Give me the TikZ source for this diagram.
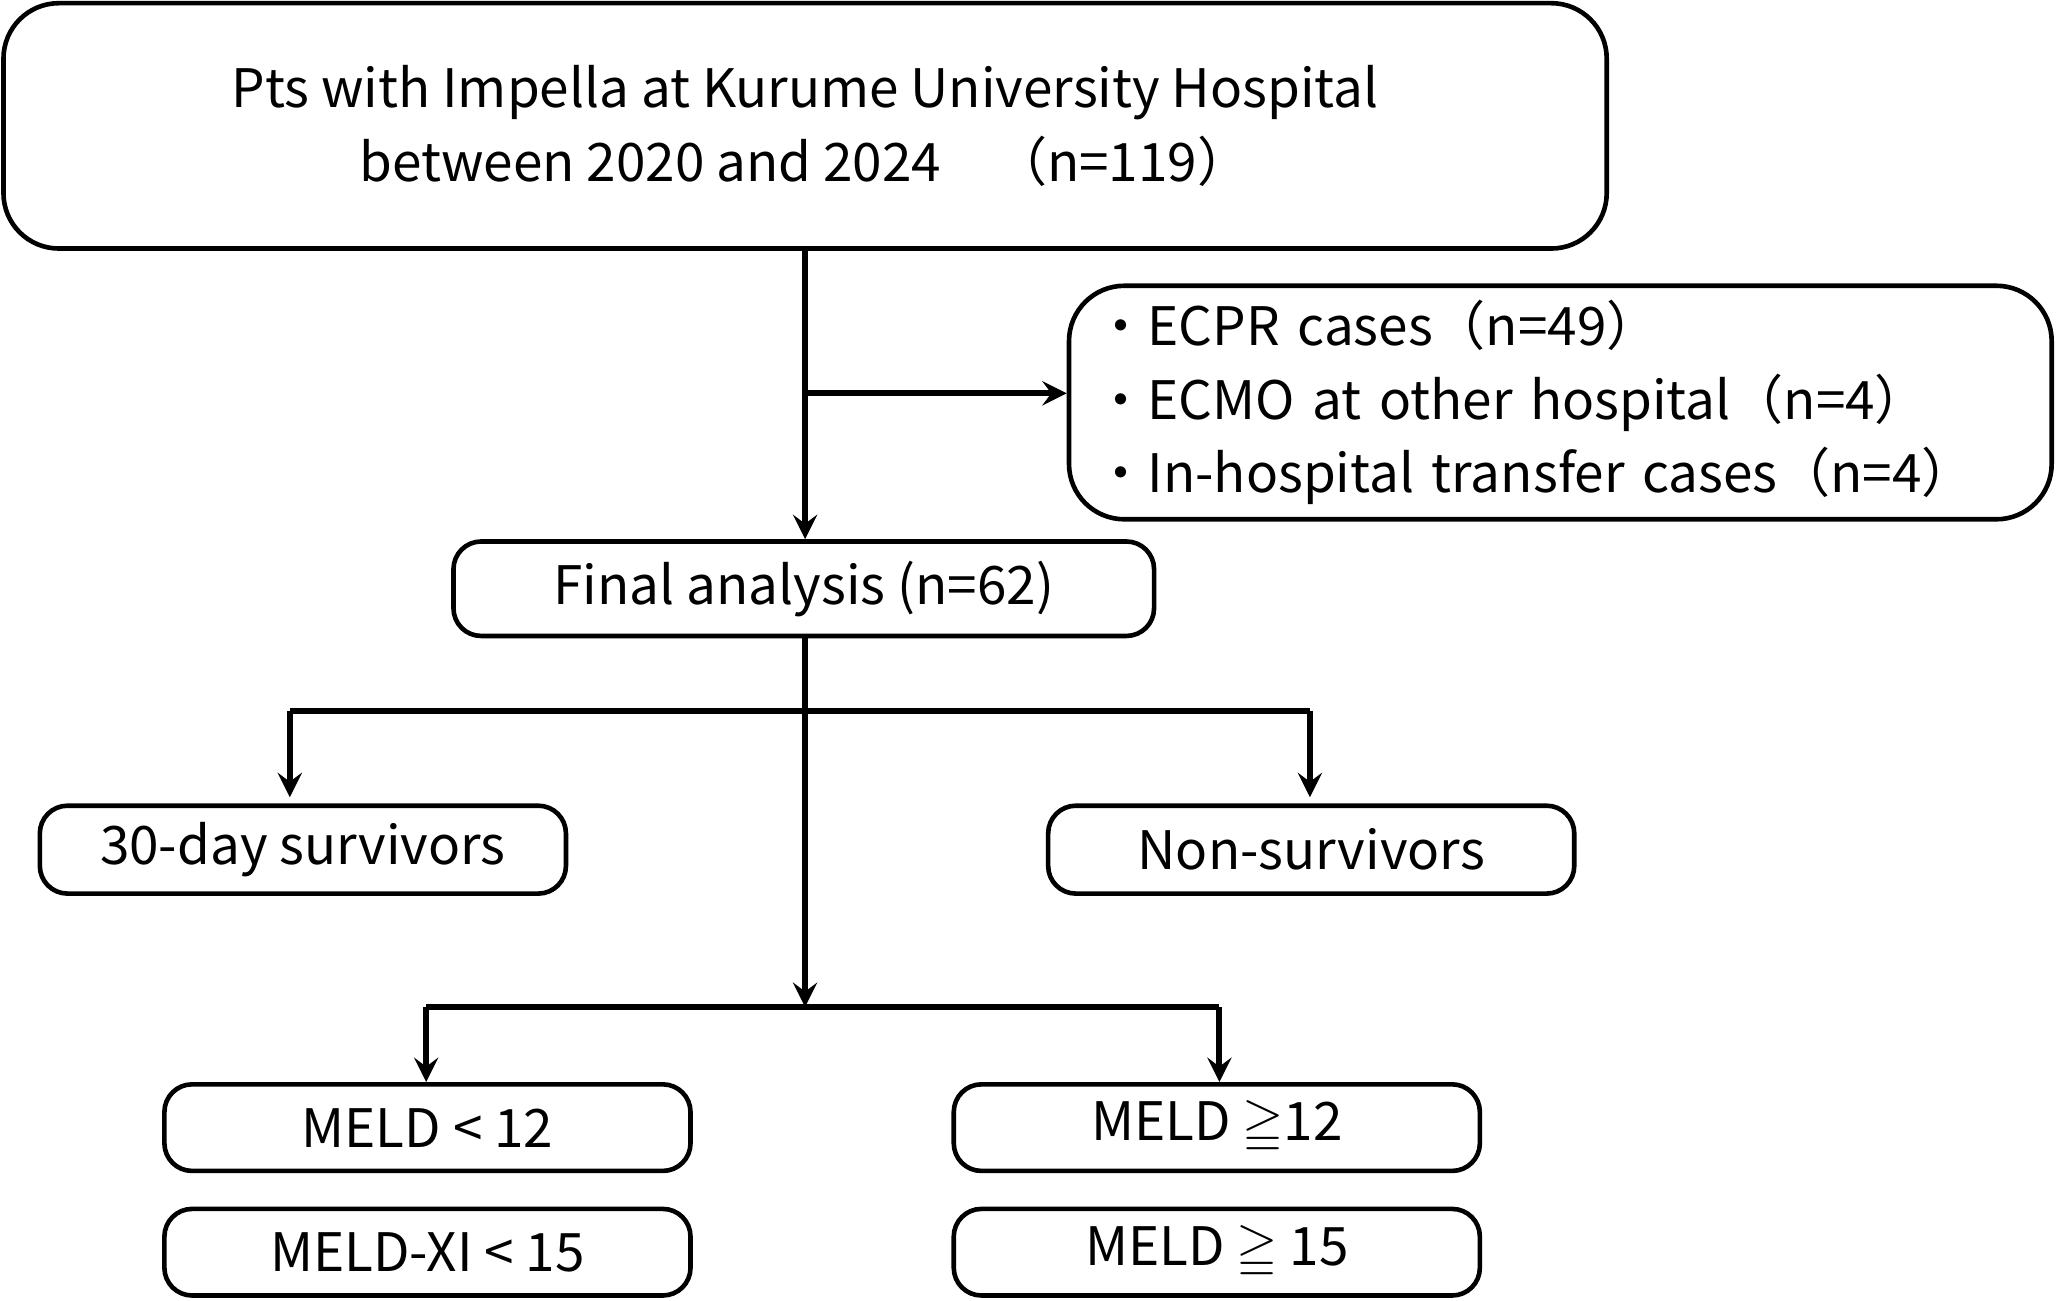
\documentclass[tikz,border=0pt]{standalone}
\usepackage{fontspec}
\setmainfont{Noto Sans CJK JP}
\usepackage{amssymb}
\begin{document}
\begin{tikzpicture}[x=0.01cm,y=-0.01cm,>=stealth,
  box/.style={draw,line width=1pt,rounded corners=6pt,font=\fontsize{11.5}{16}\selectfont,inner sep=0pt},
  flow/.style={line width=1.3pt}]
\useasboundingbox (0,0) rectangle (1568,992);
\node[box,minimum width=12.22cm,minimum height=1.87cm,rounded corners=12pt,align=center] (pts) at (614,96)
  {Pts with Impella at Kurume University Hospital\\between 2020 and 2024\quad（n=119）};
\node[box,minimum width=7.49cm,minimum height=1.78cm,rounded corners=12pt,align=left,text width=7.1cm] (excl) at (1190,307)
  {・ECPR cases（n=49）\\・ECMO at other hospital（n=4）\\・In-hospital transfer cases（n=4）};
\node[box,minimum width=5.34cm,minimum height=0.72cm] (final) at (613,449) {Final analysis (n=62)};
\node[box,minimum width=4.01cm,minimum height=0.67cm] (surv) at (231,648) {30-day survivors};
\node[box,minimum width=4.01cm,minimum height=0.67cm] (non) at (1000,648) {Non-survivors};
\node[box,minimum width=4.01cm,minimum height=0.66cm] (meldA) at (326,860) {MELD < 12};
\node[box,minimum width=4.01cm,minimum height=0.66cm] (meldB) at (928,860) {MELD $\geqq$12};
\node[box,minimum width=4.01cm,minimum height=0.66cm] (meldC) at (326,955) {MELD-XI < 15};
\node[box,minimum width=4.01cm,minimum height=0.66cm] (meldD) at (928,955) {MELD $\geqq$ 15};
\coordinate (split) at (614,300);
\coordinate (mid) at (614,768);
\draw[flow,->] (pts.south -| split) -- (final.north -| split);
\draw[flow,->] (split) -- (excl.west |- split);
\draw[flow,->] (final.south -| mid) -- (mid);
\draw[flow,->] (221,542) -- (221,608);
\draw[flow] (221,542) -- (999,542);
\draw[flow,->] (999,542) -- (999,608);
\draw[flow] (325,768) -- (930,768);
\draw[flow,->] (325,768) -- (meldA.north -| 325,0);
\draw[flow,->] (930,768) -- (meldB.north -| 930,0);
\end{tikzpicture}
\end{document}
